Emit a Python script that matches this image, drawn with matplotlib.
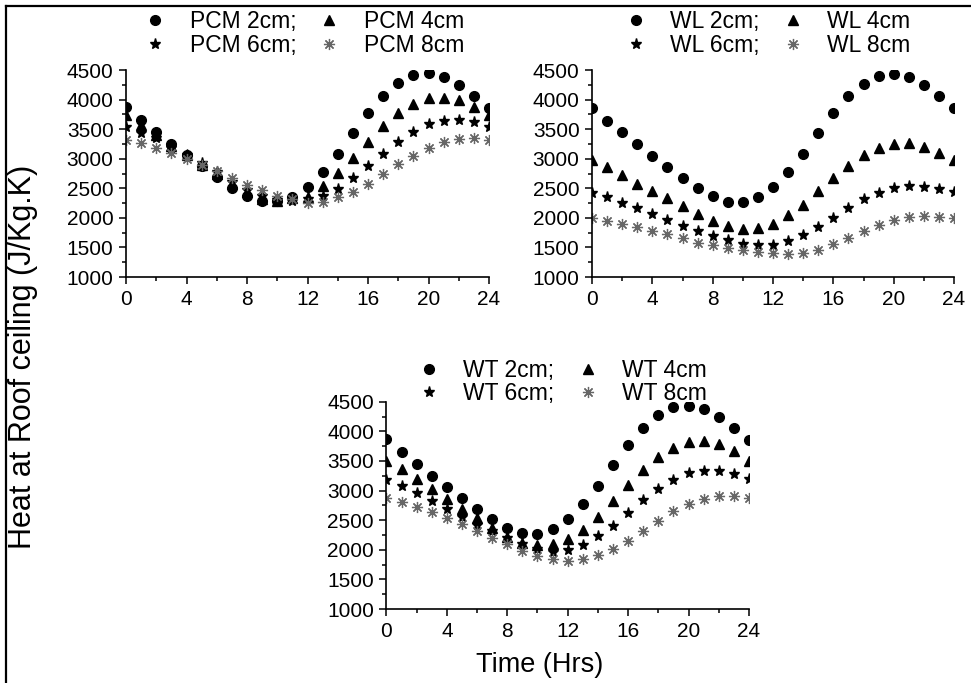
import numpy as np
import matplotlib
matplotlib.use("Agg")
import matplotlib.pyplot as plt
from matplotlib.ticker import MultipleLocator
from matplotlib.lines import Line2D

plt.rcParams["font.family"] = ["Liberation Sans", "DejaVu Sans"]

hours = list(range(25))

# PCM panel
pcm_2 = [3870, 3657, 3455, 3253, 3056, 2882, 2685, 2506, 2376, 2287, 2281, 2360, 2528,
         2781, 3084, 3433, 3770, 4056, 4281, 4410, 4444, 4388, 4247, 4067, 3865]
pcm_4 = [3736, 3567, 3399, 3208, 3062, 2893, 2742, 2573, 2433, 2320, 2292, 2332, 2348,
         2545, 2753, 3011, 3275, 3545, 3770, 3933, 4022, 4028, 3989, 3871, 3742]
pcm_6 = [3528, 3433, 3348, 3180, 3067, 2927, 2781, 2601, 2478, 2376, 2309, 2292, 2320,
         2365, 2489, 2669, 2871, 3079, 3281, 3455, 3579, 3640, 3652, 3618, 3539]
pcm_8 = [3320, 3258, 3174, 3090, 2994, 2893, 2792, 2680, 2556, 2472, 2376, 2320, 2253,
         2275, 2348, 2444, 2579, 2742, 2904, 3050, 3185, 3281, 3326, 3348, 3320]

# WL panel
wl_2 = [3854, 3646, 3444, 3247, 3045, 2865, 2680, 2500, 2365, 2275, 2270, 2348, 2517,
        2770, 3084, 3427, 3770, 4056, 4270, 4393, 4427, 4376, 4247, 4056, 3854]
wl_4 = [2972, 2854, 2725, 2579, 2449, 2331, 2202, 2073, 1944, 1866, 1820, 1837, 1904,
        2056, 2225, 2455, 2680, 2882, 3062, 3185, 3253, 3258, 3197, 3096, 2972]
wl_6 = [2427, 2348, 2258, 2169, 2067, 1972, 1871, 1775, 1691, 1618, 1556, 1534, 1545,
        1601, 1713, 1854, 2006, 2169, 2320, 2427, 2500, 2534, 2523, 2489, 2433]
wl_8 = [2000, 1955, 1899, 1848, 1775, 1719, 1652, 1579, 1534, 1483, 1450, 1416, 1399,
        1388, 1399, 1450, 1551, 1652, 1770, 1876, 1961, 2011, 2028, 2023, 2006]

# WT panel
wt_2 = [3864, 3656, 3453, 3251, 3054, 2868, 2682, 2514, 2373, 2283, 2272, 2356, 2525,
        2773, 3082, 3431, 3768, 4055, 4281, 4404, 4432, 4382, 4247, 4055, 3859]
wt_4 = [3504, 3358, 3200, 3020, 2857, 2694, 2536, 2362, 2221, 2120, 2075, 2092, 2187,
        2334, 2553, 2818, 3088, 3346, 3560, 3723, 3819, 3836, 3780, 3667, 3504]
wt_6 = [3183, 3082, 2953, 2829, 2688, 2559, 2418, 2311, 2199, 2097, 2013, 1957, 1996,
        2080, 2232, 2407, 2615, 2834, 3020, 3178, 3290, 3335, 3330, 3279, 3189]
wt_8 = [2874, 2812, 2728, 2632, 2531, 2429, 2317, 2199, 2092, 1985, 1900, 1838, 1810,
        1838, 1911, 2007, 2154, 2322, 2491, 2649, 2767, 2857, 2908, 2913, 2880]

thickness = ["2cm", "4cm", "6cm", "8cm"]

panels = [
    ("PCM", [pcm_2, pcm_4, pcm_6, pcm_8], [0.1298, 0.5944, 0.3738, 0.3031], (0.148, 0.985)),
    ("WL", [wl_2, wl_4, wl_6, wl_8], [0.6097, 0.5944, 0.3728, 0.3031], (0.643, 0.985)),
    ("WT", [wt_2, wt_4, wt_6, wt_8], [0.3980, 0.1083, 0.3733, 0.3035], (0.430, 0.475)),
]

styles = [
    dict(marker="o", color="black", ms=7, mec="black"),
    dict(marker="^", color="black", ms=7, mec="black"),
    dict(marker="*", color="black", ms=8, mec="black"),
    dict(marker=(8, 2, 0), color="0.4", ms=8, mew=0.9),
]

fig = plt.figure(figsize=(9.71, 6.83), dpi=100)

for name, series, rect, leg_pos in panels:
    ax = fig.add_axes(rect)
    handles = []
    for vals, th, st in zip(series, thickness, styles):
        lab = f"{name} {th}" + (";" if th in ("2cm", "6cm") else "")
        h, = ax.plot(hours, vals, linestyle="none", label=lab, **st)
        handles.append(h)
    ax.set_xlim(0, 24)
    ax.set_ylim(1000, 4500)
    ax.xaxis.set_major_locator(MultipleLocator(4))
    ax.xaxis.set_minor_locator(MultipleLocator(2))
    ax.yaxis.set_major_locator(MultipleLocator(500))
    ax.yaxis.set_minor_locator(MultipleLocator(250))
    for s in ["top", "right"]:
        ax.spines[s].set_visible(False)
    for s in ["left", "bottom"]:
        ax.spines[s].set_linewidth(1.2)
    ax.tick_params(which="major", direction="out", length=5, width=1.1, labelsize=15, pad=4)
    ax.tick_params(which="minor", direction="out", length=3, width=1.1)
    order = [handles[0], handles[2], handles[1], handles[3]]
    fig.legend(handles=order, labels=[h.get_label() for h in order], ncol=2,
               loc="upper left", bbox_to_anchor=leg_pos, bbox_transform=fig.transFigure,
               frameon=False, fontsize=16.5, borderpad=0, borderaxespad=0,
               handlelength=1.0, handletextpad=1.0, columnspacing=0.95,
               labelspacing=0.02, numpoints=1)

fig.text(0.024, 1 - 357 / 683, "Heat at Roof ceiling (J/Kg.K)", rotation=90,
         ha="center", va="center", fontsize=22)
fig.text(540 / 971, 1 - 665 / 683, "Time (Hrs)", ha="center", va="center", fontsize=19.5)

# frame lines of the original picture (top and left edges)
fig.add_artist(Line2D([5.5 / 971, 5.5 / 971], [0, 1 - 6 / 683], color="black", lw=1.6,
                      transform=fig.transFigure))
fig.add_artist(Line2D([5.5 / 971, 1], [1 - 6 / 683, 1 - 6 / 683], color="black", lw=1.6,
                      transform=fig.transFigure))

fig.savefig("out.png", dpi=100)
